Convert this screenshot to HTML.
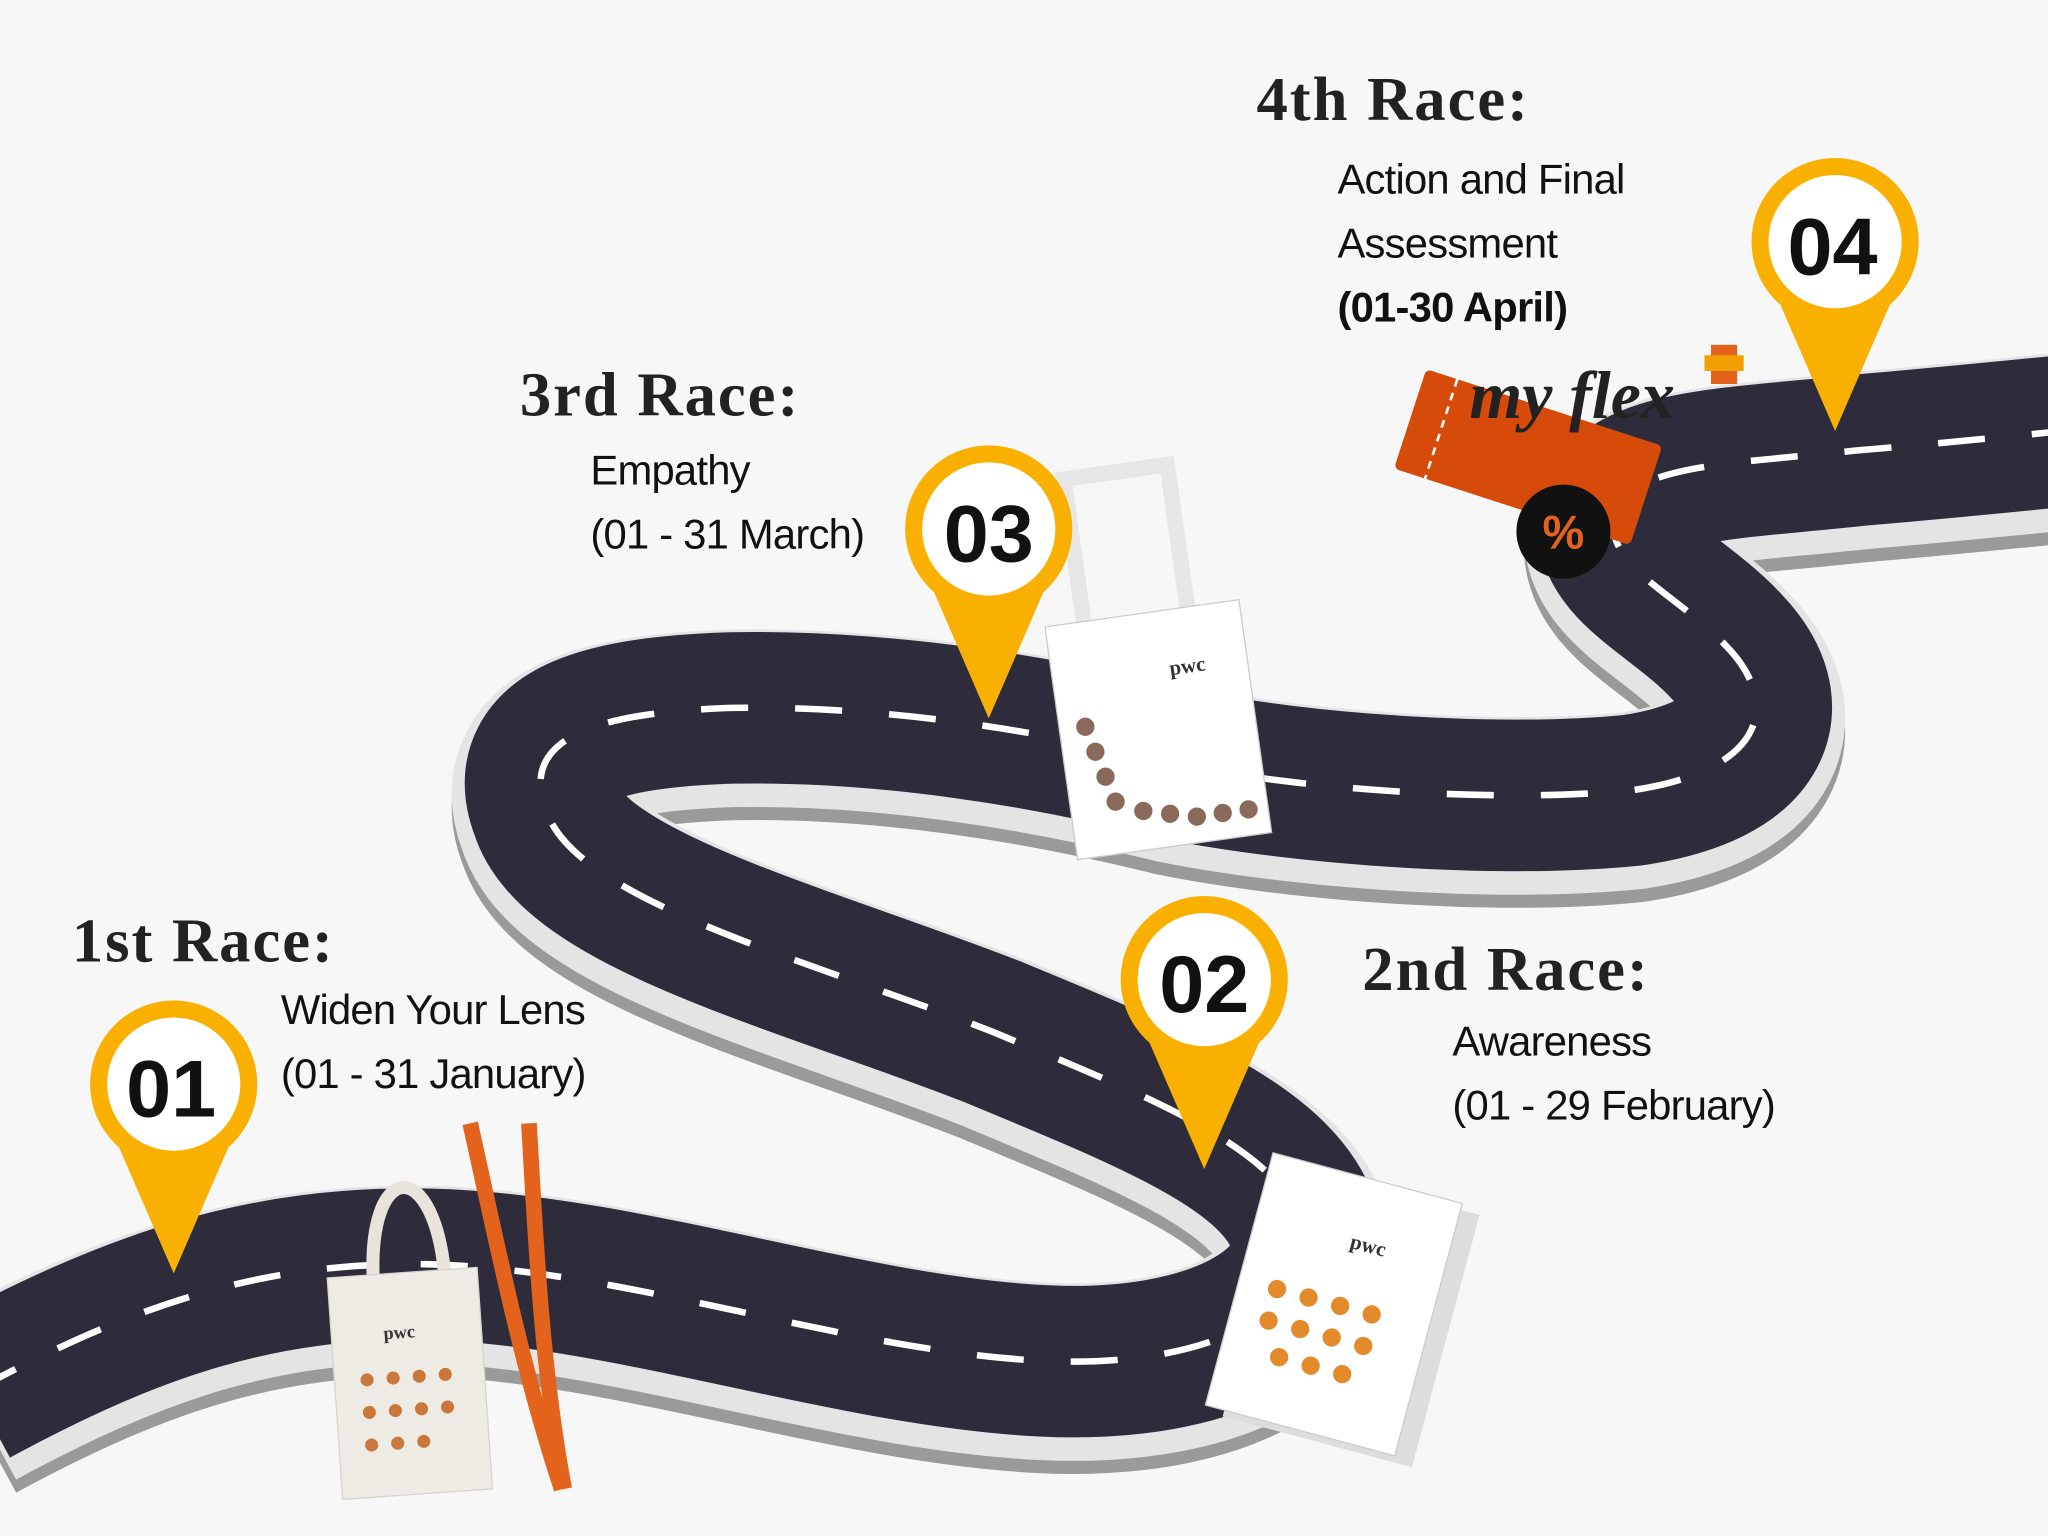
<!DOCTYPE html>
<html><head><meta charset="utf-8"><style>
html,body{margin:0;padding:0;background:#f7f7f7;}
svg{display:block}
.t{font-family:"Liberation Serif",serif;font-weight:bold;font-size:48px;fill:#222;letter-spacing:1.5px}
.s{font-family:"Liberation Sans",sans-serif;font-size:32px;fill:#111;letter-spacing:-0.6px}
.n{font-family:"Liberation Sans",sans-serif;font-weight:bold;font-size:62px;fill:#111;text-anchor:middle}
</style></head><body>
<svg width="2048" height="1536" viewBox="0 0 1568 1176" xmlns="http://www.w3.org/2000/svg">
<rect width="1568" height="1176" fill="#f7f7f7"/>
<defs>
<path id="road" d="M -20 1065 C 100 1000 200 965 330 968 C 480 972 650 1035 800 1042 C 930 1048 1010 1000 1000 945 C 985 880 880 840 760 790 C 620 735 440 690 418 620 C 395 560 470 545 560 542 C 680 540 800 560 900 585 C 1000 605 1150 615 1250 605 C 1350 590 1365 540 1322 495 C 1285 455 1230 435 1235 395 C 1245 355 1330 355 1420 345 C 1480 340 1530 335 1600 328" fill="none"/>
<g id="pin"><path d="M -52 25 L 0 145 L 52 25 Z" fill="#f9b000"/><circle r="64" fill="#f9b000"/><circle r="51" fill="#fff"/></g>
</defs>
<use href="#road" stroke="#9a9a9a" stroke-width="136" transform="translate(0,18)"/>
<use href="#road" stroke="#e4e4e4" stroke-width="136" transform="translate(0,8)"/>
<use href="#road" stroke="#2e2c3b" stroke-width="116"/>
<use href="#road" stroke="#fff" stroke-width="5" stroke-dasharray="36 36"/>

<g transform="translate(225,900) rotate(-4)">
<path d="M55 90 C55 -10 110 -10 110 90" stroke="#e8e4dc" stroke-width="10" fill="none"/>
<rect x="20" y="80" width="115" height="170" fill="#eeebe5" stroke="#d8d4cc"/>
<text x="60" y="130" font-family="Liberation Serif,serif" font-size="14" font-weight="bold" fill="#333">pwc</text>
<g fill="#c9773a"><circle cx="45" cy="160" r="5"/><circle cx="65" cy="160" r="5"/><circle cx="85" cy="160" r="5"/><circle cx="105" cy="160" r="5"/><circle cx="45" cy="185" r="5"/><circle cx="65" cy="185" r="5"/><circle cx="85" cy="185" r="5"/><circle cx="105" cy="185" r="5"/><circle cx="45" cy="210" r="5"/><circle cx="65" cy="210" r="5"/><circle cx="85" cy="210" r="5"/></g>
</g>
<path d="M360 860 C380 950 400 1050 430 1140" stroke="#e3621c" stroke-width="12" fill="none"/>
<path d="M405 860 C410 950 415 1050 432 1140" stroke="#e3621c" stroke-width="12" fill="none"/>
<g transform="translate(965,880) rotate(15)">
<rect x="25" y="5" width="150" height="200" fill="#ddd"/>
<rect x="10" y="0" width="150" height="200" fill="#fff" stroke="#ccc"/>
<text x="85" y="55" font-family="Liberation Serif,serif" font-size="16" font-weight="bold" fill="#333">pwc</text>
<g fill="#e38a2a"><circle cx="40" cy="100" r="7"/><circle cx="65" cy="100" r="7"/><circle cx="90" cy="100" r="7"/><circle cx="115" cy="100" r="7"/><circle cx="40" cy="125" r="7"/><circle cx="65" cy="125" r="7"/><circle cx="90" cy="125" r="7"/><circle cx="115" cy="125" r="7"/><circle cx="55" cy="150" r="7"/><circle cx="80" cy="150" r="7"/><circle cx="105" cy="150" r="7"/></g>
</g>
<g transform="translate(800,480) rotate(-8)">
<path d="M30 10 L30 -110 L110 -110 L110 10" stroke="#e6e6e6" stroke-width="12" fill="none"/>
<rect x="0" y="0" width="150" height="180" fill="#fff" stroke="#ccc"/>
<text x="90" y="50" font-family="Liberation Serif,serif" font-size="16" font-weight="bold" fill="#333">pwc</text>
<g fill="#8a6a5a"><circle cx="20" cy="80" r="7"/><circle cx="25" cy="100" r="7"/><circle cx="30" cy="120" r="7"/><circle cx="35" cy="140" r="7"/><circle cx="55" cy="150" r="7"/><circle cx="75" cy="155" r="7"/><circle cx="95" cy="160" r="7"/><circle cx="115" cy="160" r="7"/><circle cx="135" cy="160" r="7"/></g>
</g>
<g transform="translate(1170,350) rotate(18)">
<rect x="-95" y="-40" width="190" height="80" rx="4" fill="#d64a0a"/>
<line x1="-70" y1="-40" x2="-70" y2="40" stroke="#fff" stroke-width="2" stroke-dasharray="6 5"/>
</g>
<circle cx="1197" cy="407" r="36" fill="#111"/>
<text x="1197" y="420" font-family="Liberation Sans,sans-serif" font-size="36" font-weight="bold" fill="#e3621c" text-anchor="middle">%</text>
<text x="1125" y="320" font-family="Liberation Serif,serif" font-style="italic" font-weight="bold" font-size="52" fill="#222">my flex</text>
<rect x="1310" y="264" width="20" height="30" fill="#e3621c"/><rect x="1305" y="272" width="30" height="12" fill="#f0a000"/>

<use href="#pin" transform="translate(133,830)"/><text class="n" x="131" y="855">01</text>
<use href="#pin" transform="translate(922,750)"/><text class="n" x="922" y="775">02</text>
<use href="#pin" transform="translate(757,405)"/><text class="n" x="757" y="430">03</text>
<use href="#pin" transform="translate(1405,185)"/><text class="n" x="1403" y="210">04</text>

<text class="t" x="55" y="736">1st Race:</text>
<text class="s" x="215" y="784">Widen Your Lens</text>
<text class="s" x="215" y="833">(01 - 31 January)</text>
<text class="t" x="1043" y="758">2nd Race:</text>
<text class="s" x="1112" y="808">Awareness</text>
<text class="s" x="1112" y="857">(01 - 29 February)</text>
<text class="t" x="398" y="318">3rd Race:</text>
<text class="s" x="452" y="371">Empathy</text>
<text class="s" x="452" y="420">(01 - 31 March)</text>
<text class="t" x="962" y="92">4th Race:</text>
<text class="s" x="1024" y="148">Action and Final</text>
<text class="s" x="1024" y="197">Assessment</text>
<text class="s" x="1024" y="246" font-weight="bold">(01-30 April)</text>
</svg>
</body></html>
